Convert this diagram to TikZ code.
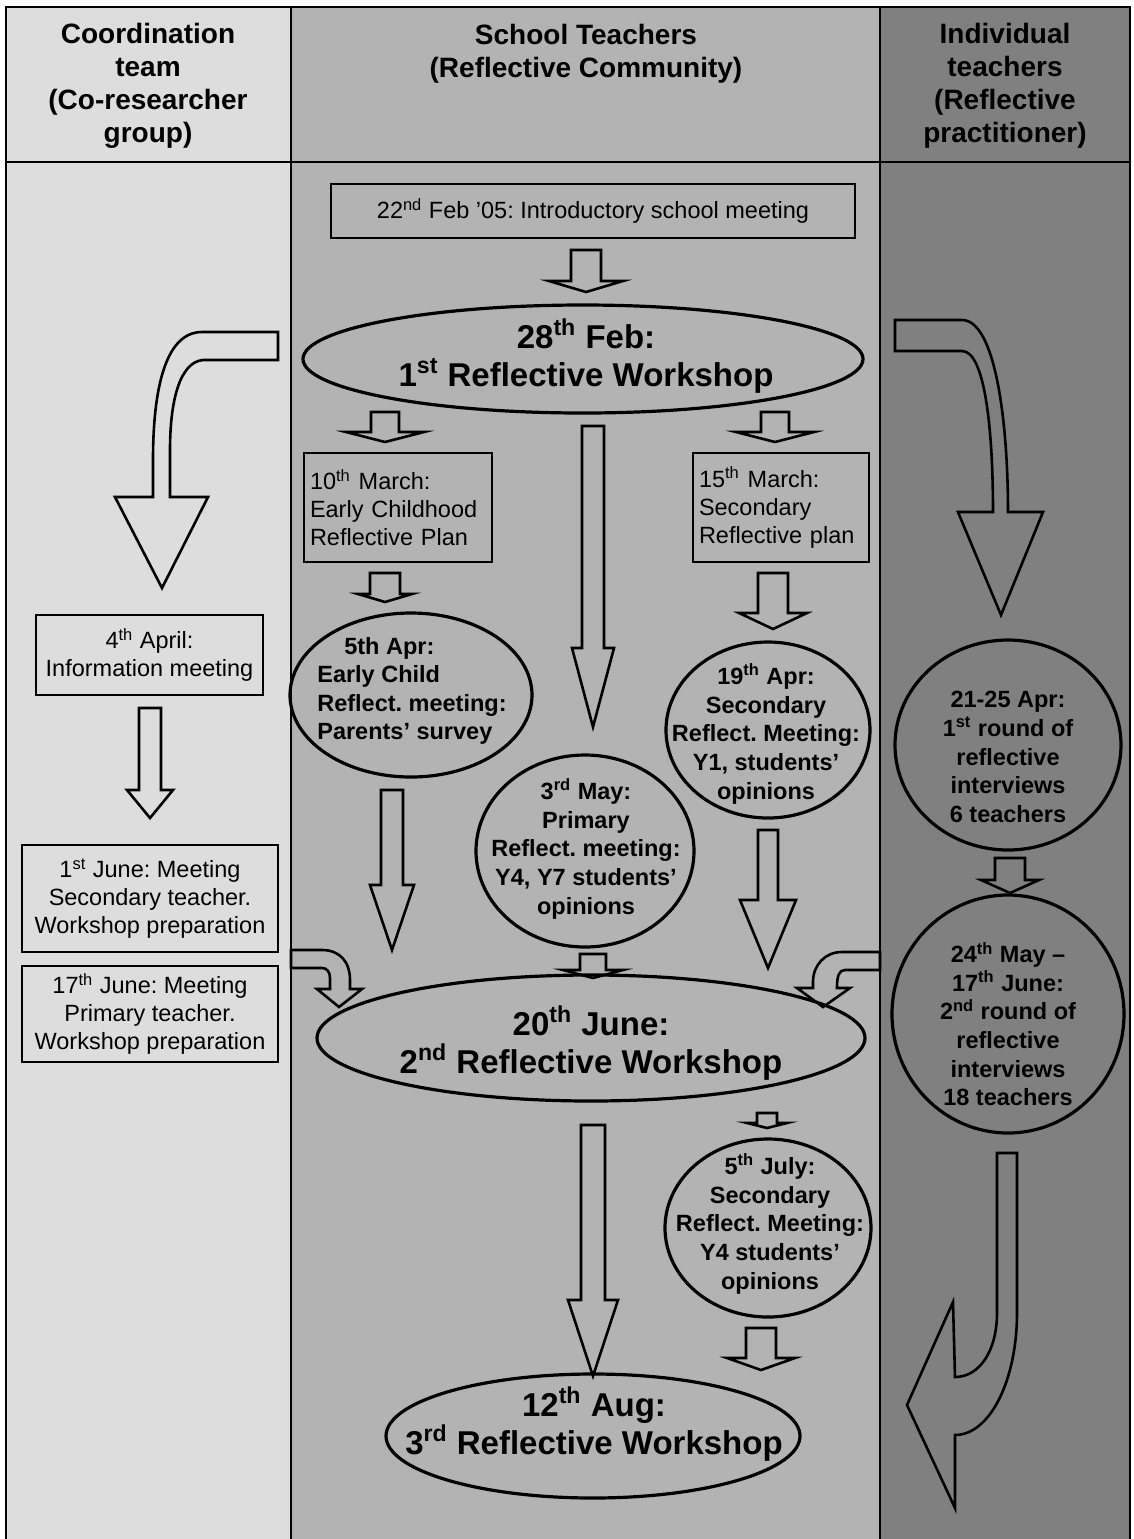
\documentclass[tikz,border=0pt]{standalone}
\usepackage{fontspec}
\setmainfont{Liberation Sans}
\usetikzlibrary{shapes.geometric}
\definecolor{coordgray}{HTML}{DDDDDD}
\definecolor{schoolgray}{HTML}{B3B3B3}
\definecolor{indivgray}{HTML}{808080}
\frenchspacing
% block arrow: x, top, head base, tip, shaft half width, head half width
\newcommand{\blockarrow}[6]{%
  \draw[blk] (#1-#5,#2) -- (#1+#5,#2) -- (#1+#5,#3) -- (#1+#6,#3) -- (#1,#4)
    -- (#1-#6,#3) -- (#1-#5,#3) -- cycle;}

\begin{document}
\begin{tikzpicture}[x=0.5pt, y=-0.5pt,
  every node/.style={inner sep=0pt},
  frame/.style={line width=1.2pt},
  head/.style={font=\fontsize{14}{16.5}\selectfont\bfseries, align=center},
  box/.style={draw, line width=0.75pt, font=\fontsize{11.75}{14}\selectfont, align=center},
  plan/.style={box, align=left, inner xsep=3pt},
  oval/.style={ellipse, draw, line width=1.6pt},
  meet/.style={font=\fontsize{11.75}{14.3}\selectfont\bfseries, align=center},
  bigmeet/.style={font=\fontsize{16.5}{19}\selectfont\bfseries, align=center},
  blk/.style={line width=1.3pt, line join=miter},
]
\useasboundingbox (0,0) rectangle (1134,1539);

% columns
\fill[coordgray] (6,7) rectangle (291,1539);
\fill[schoolgray] (291,7) rectangle (880,1539);
\fill[indivgray] (880,7) rectangle (1130,1539);
\draw[frame] (6,1539) -- (6,7) -- (1130,7) -- (1130,1539);
\draw[frame] (291,7) -- (291,1539);
\draw[frame] (880,7) -- (880,1539);
\draw[frame] (6,162) -- (1130,162);

\node[head] (hcoord) at (148,86) {Coordination\\team\\(Co-researcher\\group)};
\node[head] (hschool) at (586,54) {School Teachers\\(Reflective Community)};
\node[head] (hindiv) at (1005,86) {Individual\\teachers\\(Reflective\\practitioner)};

% school teachers
\node[box, minimum width=262pt, minimum height=27pt] (intro) at (593,211)
  {22\textsuperscript{nd} Feb ’05: Introductory school meeting};
\blockarrow{586}{250}{281}{292}{15}{37}
\node[oval, minimum width=280pt, minimum height=54pt] (feb28) at (583,359) {};
\node[bigmeet] (feb28t) at (586,356) {28\textsuperscript{th} Feb:\\1\textsuperscript{st} Reflective Workshop};

\blockarrow{385}{412}{432}{442}{14}{39}
\blockarrow{775}{412}{432}{442}{14}{39}
\node[plan, text width=88pt, minimum height=54.5pt] (mar10) at (398,507.5)
  {10\textsuperscript{th} March:\\Early Childhood\\Reflective Plan};
\node[plan, text width=82pt, minimum height=54.5pt] (mar15) at (781,507.5)
  {15\textsuperscript{th} March:\\Secondary\\Reflective plan};
\blockarrow{593}{426}{648}{727}{11}{21}

\blockarrow{385}{573}{594}{602}{15}{27}
\blockarrow{773}{573}{613}{629}{15}{34}
\node[oval, minimum width=121pt, minimum height=82pt] (apr5) at (411,695) {};
\node[meet, align=left] (apr5t) at (412,691)
  {\hspace*{13.5pt}5th Apr:\\Early Child\\Reflect. meeting:\\Parents’ survey};
\node[oval, minimum width=102pt, minimum height=88pt] (apr19) at (768,730) {};
\node[meet] (apr19t) at (766,734)
  {19\textsuperscript{th} Apr:\\Secondary\\Reflect. Meeting:\\Y1, students’\\opinions};
\node[oval, minimum width=109pt, minimum height=96pt] (may3) at (585,851) {};
\node[meet] (may3t) at (586,849)
  {3\textsuperscript{rd} May:\\Primary\\Reflect. meeting:\\Y4, Y7 students’\\opinions};

\blockarrow{392}{790}{885}{950}{11}{22}
\blockarrow{768}{830}{900}{968}{10}{28}
\blockarrow{593}{954}{970}{978}{13}{30}
\draw[blk] (291,950) -- (322,950) .. controls (340,950) and (350,962) .. (350,980)
  -- (350,989) -- (362,989) -- (339,1007) -- (317,989) -- (330,989) -- (330,978)
  .. controls (330,972) and (327,968) .. (322,968) -- (291,968) -- cycle;
\draw[blk] (880,952) -- (842,952) .. controls (825,952) and (813,965) .. (813,982)
  -- (813,988) -- (797,988) -- (823,1007) -- (850,988) -- (837,988)
  .. controls (837,976) and (839,970) .. (845,970) -- (880,970) -- cycle;

\node[oval, minimum width=274pt, minimum height=63pt] (jun20) at (591,1038) {};
\node[bigmeet] (jun20t) at (591,1043) {20\textsuperscript{th} June:\\2\textsuperscript{nd} Reflective Workshop};

\blockarrow{767}{1113}{1123}{1128}{10}{20}
\node[oval, minimum width=103pt, minimum height=89pt] (jul5) at (768,1228) {};
\node[meet] (jul5t) at (770,1224)
  {5\textsuperscript{th} July:\\Secondary\\Reflect. Meeting:\\Y4 students’\\opinions};
\blockarrow{593}{1125}{1300}{1376}{12}{25}
\blockarrow{761}{1328}{1358}{1370}{15}{34}
\node[oval, minimum width=207pt, minimum height=62pt] (aug12) at (593,1436) {};
\node[bigmeet] (aug12t) at (594,1424) {12\textsuperscript{th} Aug:\\3\textsuperscript{rd} Reflective Workshop};

% coordination team
\draw[blk] (278,332) -- (202,332) .. controls (165,332) and (153,390) .. (153,460)
  -- (153,497) -- (115,497) -- (162,588) -- (208,497) -- (170,497) -- (170,450)
  .. controls (170,400) and (180,362) .. (203,360) -- (278,360) -- cycle;
\node[box, minimum width=113.5pt, minimum height=40pt] (info) at (149.5,655)
  {4\textsuperscript{th} April:\\Information meeting};
\blockarrow{150}{708}{790}{818}{11}{23}
\node[box, minimum width=128pt, minimum height=53.5pt] (jun1) at (150,898.5)
  {1\textsuperscript{st} June: Meeting\\Secondary teacher.\\Workshop preparation};
\node[box, minimum width=128pt, minimum height=48pt] (jun17) at (150,1014)
  {17\textsuperscript{th} June: Meeting\\Primary teacher.\\Workshop preparation};

% individual teachers
\draw[blk] (895,320) -- (962,320) .. controls (995,320) and (1008,420) .. (1008,512)
  -- (1043,512) -- (1001,615) -- (958,512) -- (993,512)
  .. controls (993,430) and (985,351) .. (962,351) -- (895,351) -- cycle;
\node[oval, minimum width=113pt, minimum height=105pt] (apr21) at (1008,745) {};
\node[meet] (apr21t) at (1008,757)
  {21-25 Apr:\\1\textsuperscript{st}  round of\\reflective\\interviews\\6 teachers};
\blockarrow{1010}{858}{880}{893}{15}{29}
\node[oval, minimum width=116pt, minimum height=119pt] (may24) at (1008,1014) {};
\node[meet] (may24t) at (1008,1024)
  {24\textsuperscript{th} May –\\17\textsuperscript{th} June:\\2\textsuperscript{nd}  round of\\reflective\\interviews\\18 teachers};
\draw[blk] (997,1153) -- (1017,1153) -- (1017,1313)
  .. controls (1017,1380) and (990,1435) .. (955,1435) -- (955,1508) -- (907,1405)
  -- (953,1302) -- (955,1377) .. controls (980,1377) and (997,1350) .. (997,1313) -- cycle;
\end{tikzpicture}
\end{document}
